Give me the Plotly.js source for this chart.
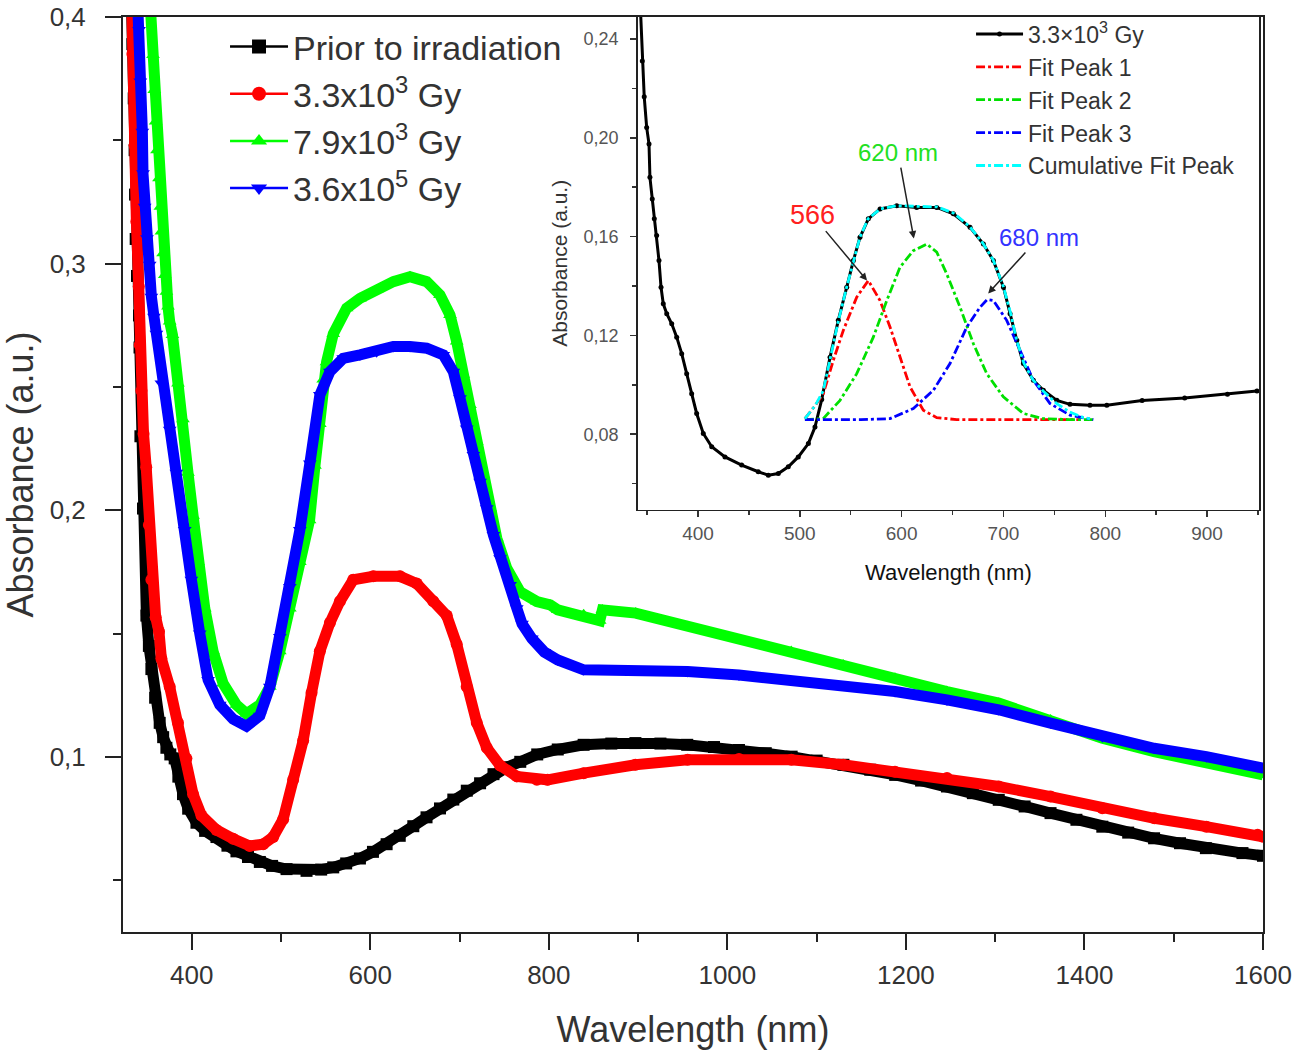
<!DOCTYPE html>
<html>
<head>
<meta charset="utf-8">
<script src="https://cdn.plot.ly/plotly-3.0.1.min.js"></script>
<style>html,body{margin:0;padding:0;background:#fff;}#chart{width:1299px;height:1057px;}</style>
</head>
<body>
<div id="chart"></div>
<script>
// ---- Main chart data (wavelength nm, absorbance a.u.) ----
const wlPrior = [332.5,333.5,335,336,336.5,337.2,338.7,340.9,341.5,342.5,345.4,349.2,352,354.8,359,364.1,368,371.6,376,380.9,385,390.2,396,405.3,415,427.7,440,450.1,463,476.3,490,506.2,528.6,545,558.5,573,588.4,603,618.3,633,648.2,663,678.1,693,708.1,723,738,753,768,787,810,839,870,897,925,955,985,1013,1043,1072,1100,1130,1160,1188,1217,1246,1275,1304,1333,1362,1391,1420,1449,1478,1507,1536,1577,1600];
const absPrior = [0.405,0.389,0.367,0.346,0.328,0.310,0.295,0.279,0.266,0.230,0.2007,0.1573,0.145,0.1356,0.124,0.1138,0.108,0.1037,0.101,0.0994,0.092,0.0849,0.079,0.0733,0.070,0.0675,0.064,0.0617,0.0594,0.0574,0.0558,0.0545,0.0538,0.0543,0.0552,0.0568,0.0588,0.0615,0.0646,0.068,0.0719,0.0755,0.0791,0.0827,0.0863,0.0893,0.0930,0.0958,0.0980,0.1010,0.1030,0.1049,0.1054,0.1056,0.1054,0.1049,0.1040,0.1028,0.1015,0.1001,0.0985,0.0968,0.0948,0.0927,0.0904,0.0880,0.0853,0.0826,0.0799,0.0772,0.0745,0.0717,0.0693,0.0670,0.0650,0.0630,0.0610,0.0599];

const wl33 = [332.5,333.5,336,338,340.6,341.7,343.6,346,349,352,354.8,359.6,363.3,366,375.3,384.6,394,401.5,410.9,427.7,446.4,465,480,491.2,502.4,513.6,524.8,534.2,543.5,554.8,566,580.9,603.3,633.3,652,670.6,685.6,696.8,708,719.3,730.5,745.4,764.1,786.6,798.6,839,897,955.5,1013,1071.6,1129.7,1187.8,1246,1304,1362,1420,1478.4,1536.5,1594,1600];
const abs33 = [0.41,0.385,0.348,0.317,0.2907,0.267,0.2485,0.231,0.2174,0.194,0.1718,0.1566,0.1508,0.1399,0.1284,0.1138,0.0994,0.0849,0.0762,0.0704,0.0668,0.0639,0.0646,0.0675,0.0747,0.0907,0.1066,0.1260,0.1428,0.1544,0.1631,0.1718,0.1732,0.1732,0.1703,0.1631,0.1573,0.1457,0.1284,0.1138,0.1037,0.0965,0.0921,0.0907,0.0907,0.0934,0.0968,0.0988,0.0991,0.0988,0.0968,0.0940,0.0914,0.0880,0.0839,0.0792,0.0751,0.0717,0.0684,0.0676];

const wl79 = [353.5,356.6,358,359.6,361.1,363.3,364.9,366,367.9,369.8,371.6,373.4,375.3,378.4,384.6,390.2,395.8,401.5,407,414.6,423.9,435.1,450.1,461.3,476.3,487.5,498.7,509.9,521.1,532,538,543.5,547.2,551,558.5,573.5,588.4,607.1,625.8,644.5,663.2,678.1,689.3,696.8,704.2,711.7,719.3,726.7,734.2,741.7,752.9,767.8,786.6,801.5,810,839,853.7,857,860,897.3,955.5,1013.4,1071.6,1129.7,1187.8,1245.9,1304,1362,1420,1478,1536.5,1594,1600];
const abs79 = [0.405,0.3846,0.3704,0.3576,0.346,0.3346,0.3231,0.313,0.3042,0.2954,0.2886,0.2826,0.2765,0.2711,0.2514,0.2369,0.2152,0.1978,0.179,0.1602,0.1428,0.1298,0.1211,0.1175,0.1211,0.1284,0.1428,0.1602,0.179,0.1960,0.2180,0.2350,0.2530,0.2600,0.2715,0.2819,0.2859,0.2893,0.2927,0.2947,0.2927,0.2873,0.2792,0.2684,0.2549,0.2427,0.2278,0.2143,0.2008,0.1887,0.1765,0.1670,0.1630,0.1616,0.1596,0.1576,0.1555,0.1552,0.1596,0.1583,0.1528,0.1474,0.1427,0.1373,0.1319,0.1265,0.1218,0.1150,0.1076,0.1021,0.0981,0.0934,0.0927];

const wl36 = [339.5,340.9,342.4,344.7,345.4,347.3,349.9,352.9,354.8,357.7,360.4,366,375.3,382.8,392.1,399.6,409,418.3,431.4,446.4,461.3,476.3,487.5,498.7,509.9,521.1,532.3,543.5,554.8,569.7,588.4,607.1,625.8,644.5,663.2,681.8,693,700.5,708,715.5,723,730.5,737.9,745.4,756.6,764.1,770,781,795,810,839,897,955.5,1013,1071.6,1129.7,1187.8,1246,1304,1362,1420,1478,1536.5,1594,1600];
const abs36 = [0.405,0.3947,0.3738,0.3535,0.3366,0.3231,0.3103,0.2995,0.2866,0.2785,0.2716,0.2514,0.2326,0.2152,0.192,0.1718,0.150,0.1312,0.1211,0.1153,0.1124,0.1167,0.1284,0.1486,0.1689,0.192,0.219,0.2467,0.2562,0.2616,0.2630,0.2643,0.2664,0.2664,0.2657,0.2630,0.2562,0.2454,0.2332,0.2224,0.2116,0.2008,0.1900,0.1805,0.1697,0.1603,0.1540,0.1480,0.1425,0.1393,0.1353,0.1353,0.1346,0.1332,0.1312,0.1292,0.1265,0.1231,0.1191,0.1137,0.1082,0.1035,0.1001,0.0961,0.0955];

const mainNames = ['Prior to irradiation','3.3x10<sup>3</sup> Gy','7.9x10<sup>3</sup> Gy','3.6x10<sup>5</sup> Gy'];

// ---- Inset data (3.3x10^3 Gy and Gaussian fit peaks) ----
const wlInset = [343.5,345.3,347.2,349.6,351.9,352.8,355.1,357.1,359.4,361.7,363.7,365.9,369.3,374.2,379.1,384,388.9,393.8,398.7,405.2,413.5,426.5,442.9,459.2,469.1,478.9,488.7,498.5,508.4,514.9,521.5,529.7,537.8,546.1,552.6,559.1,567.3,578.8,595.2,614.8,634.5,650.8,667.2,680.3,690.1,700,706.5,713.1,719.6,729.4,739.2,752.4,765.4,785,801.5,836.2,878,920,949];
const absInset = [0.252,0.2311,0.2166,0.2042,0.1975,0.184,0.1752,0.1672,0.1604,0.1503,0.1395,0.1328,0.1288,0.1247,0.1193,0.1126,0.1045,0.0964,0.0884,0.0803,0.0749,0.0708,0.0675,0.0648,0.0634,0.0641,0.0668,0.0708,0.0762,0.0829,0.0940,0.1112,0.1261,0.1395,0.1503,0.1597,0.1672,0.1712,0.1725,0.1718,0.1718,0.1692,0.1638,0.1570,0.1503,0.1395,0.1288,0.1180,0.1086,0.1018,0.0978,0.0937,0.0921,0.0917,0.0917,0.0936,0.0947,0.0962,0.0975];

const wlFit1 = [505,514,523.1,532.9,542.7,555.9,567.3,578.8,588.6,598.4,608.3,621.3,634.5,654.1,700,775];
const absFit1 = [0.0863,0.0910,0.0964,0.1099,0.1220,0.1355,0.1422,0.1341,0.1234,0.1112,0.0991,0.0897,0.0867,0.0859,0.0859,0.0859];

const wlFit2 = [505,523,539.5,555.9,572.2,585.4,598.4,611.5,624.7,634.5,644.3,657.4,670.4,683.6,699.9,719.6,739.2,765.4,790];
const absFit2 = [0.0859,0.0863,0.0937,0.1045,0.1193,0.1341,0.1476,0.1543,0.1570,0.1537,0.1449,0.1314,0.1167,0.1045,0.0951,0.0884,0.0863,0.0859,0.0859];

const wlFit3 = [505,560,588.6,611.5,631.2,647.5,664,677,684,690.1,703.2,716.3,729.4,745.8,765.4,788.3];
const absFit3 = [0.0859,0.0859,0.0863,0.0904,0.0978,0.1086,0.1234,0.1314,0.1345,0.1341,0.1261,0.1139,0.1018,0.0924,0.0877,0.0859];

const wlCum = [505,515,523,530,538,546,553,559,567,579,595,615,635,651,667,680,690,700,707,713,720,729,739,752,765,778,785];
const absCum = [0.0863,0.0915,0.0975,0.1112,0.1261,0.1395,0.1503,0.1597,0.1672,0.1712,0.1725,0.1722,0.1720,0.1695,0.1640,0.1572,0.1505,0.1397,0.1290,0.1180,0.1088,0.1020,0.0975,0.0925,0.0890,0.0868,0.0862];

const insetNames = ['3.3\u00d710<sup>3</sup> Gy','Fit Peak 1','Fit Peak 2','Fit Peak 3','Cumulative Fit Peak'];

// peak labels
const peakLabels = ['566','620 nm','680 nm'];
const peakLabelWl = [512,596.5,735];
const peakLabelAbs = [0.1689,0.194,0.1596];
const peakHeadWl = [566,612,685];
const peakHeadAbs = [0.1422,0.1592,0.137];

// ---- styles ----
const mainColors = ['#000000','#ff0000','#00ff00','#0000ff'];
const mainSymbols = ['square','circle','triangle-up','triangle-down'];
const fitColors = ['#ff0000','#00e000','#0000ff','#00ffff'];
const peakColors = ['#ff2020','#22e022','#3333ff'];
const FONT = 'Liberation Sans, Arial, Helvetica, sans-serif';

const mainX = [wlPrior, wl33, wl79, wl36];
const mainY = [absPrior, abs33, abs79, abs36];

const traces = [];
// data traces (thick bands)
for (let i = 0; i < 4; i++) {
  traces.push({
    x: mainX[i], y: mainY[i], type: 'scatter', mode: 'lines+markers',
    xaxis: 'x', yaxis: 'y', showlegend: false, cliponaxis: true,
    line: {color: mainColors[i], width: 11},
    marker: {color: mainColors[i], symbol: mainSymbols[i], size: 12}
  });
}
// legend entries for main chart
for (let i = 0; i < 4; i++) {
  traces.push({
    x: [null], y: [null], type: 'scatter', mode: 'lines+markers',
    xaxis: 'x', yaxis: 'y', name: mainNames[i], legend: 'legend',
    line: {color: mainColors[i], width: 2.5},
    marker: {color: mainColors[i], symbol: mainSymbols[i], size: 14}
  });
}
// inset traces
traces.push({
  x: wlInset, y: absInset, type: 'scatter', mode: 'lines+markers',
  xaxis: 'x2', yaxis: 'y2', name: insetNames[0], legend: 'legend2',
  line: {color: '#000', width: 3}, marker: {color: '#000', symbol: 'circle', size: 5}
});
const fitX = [wlFit1, wlFit2, wlFit3, wlCum];
const fitY = [absFit1, absFit2, absFit3, absCum];
for (let i = 0; i < 4; i++) {
  traces.push({
    x: fitX[i], y: fitY[i], type: 'scatter', mode: 'lines',
    xaxis: 'x2', yaxis: 'y2', name: insetNames[i + 1], legend: 'legend2',
    line: {color: fitColors[i], width: 2.8, dash: 'dashdot'}
  });
}

const annotations = peakLabels.map((t, i) => ({
  xref: 'x2', yref: 'y2', axref: 'x2', ayref: 'y2',
  x: peakHeadWl[i], y: peakHeadAbs[i], ax: peakLabelWl[i], ay: peakLabelAbs[i],
  text: t, showarrow: true, arrowhead: 2, arrowsize: 1, arrowwidth: 1.5, arrowcolor: '#222',
  font: {family: FONT, size: i === 0 ? 27 : 24, color: peakColors[i]}
}));

const layout = {
  width: 1299, height: 1057,
  margin: {l: 123, r: 36, t: 17, b: 125},
  paper_bgcolor: '#fff', plot_bgcolor: '#fff',
  separators: ',.',
  font: {family: FONT, color: '#333'},
  xaxis: {
    domain: [0, 1], range: [323, 1600], showgrid: false, zeroline: false,
    showline: true, linecolor: '#222', linewidth: 2, mirror: true,
    ticks: 'outside', ticklen: 16, tickwidth: 2, tickcolor: '#222',
    tick0: 0, dtick: 200, ticklabelstandoff: 3,
    minor: {dtick: 100, ticks: 'outside', ticklen: 8, tickwidth: 2, tickcolor: '#222'},
    tickfont: {family: FONT, size: 26, color: '#333'},
    title: {text: 'Wavelength (nm)', font: {family: FONT, size: 36, color: '#333'}, standoff: 28}
  },
  yaxis: {
    domain: [0, 1], range: [0.029, 0.4], showgrid: false, zeroline: false,
    showline: true, linecolor: '#222', linewidth: 2, mirror: true,
    ticks: 'outside', ticklen: 16, tickwidth: 2, tickcolor: '#222',
    tick0: 0, dtick: 0.1, ticklabelstandoff: 14,
    minor: {dtick: 0.05, ticks: 'outside', ticklen: 8, tickwidth: 2, tickcolor: '#222'},
    tickfont: {family: FONT, size: 26, color: '#333'},
    title: {text: 'Absorbance (a.u.)', font: {family: FONT, size: 36, color: '#333'}, standoff: 8}
  },
  xaxis2: {
    domain: [0.4515, 0.9965], anchor: 'y2', range: [340.8, 951], showgrid: false, zeroline: false,
    showline: true, linecolor: '#222', linewidth: 1.5, mirror: true,
    ticks: 'outside', ticklen: 6, tickwidth: 1.5, tickcolor: '#333',
    tick0: 0, dtick: 100, ticklabelstandoff: 0,
    minor: {dtick: 50, ticks: 'outside', ticklen: 4, tickwidth: 1.5, tickcolor: '#333'},
    tickfont: {family: FONT, size: 19, color: '#555'},
    title: {text: 'Wavelength (nm)', font: {family: FONT, size: 22, color: '#111'}, standoff: 22}
  },
  yaxis2: {
    domain: [0.4617, 1], anchor: 'x2', range: [0.0495, 0.2489], showgrid: false, zeroline: false,
    showline: true, linecolor: '#222', linewidth: 1.5, mirror: true,
    ticks: 'outside', ticklen: 6, tickwidth: 1.5, tickcolor: '#333',
    tick0: 0, dtick: 0.04, tickformat: '.2f', ticklabelstandoff: 8,
    minor: {dtick: 0.02, ticks: 'outside', ticklen: 4, tickwidth: 1.5, tickcolor: '#333'},
    tickfont: {family: FONT, size: 18, color: '#555'},
    title: {text: 'Absorbance (a.u.)', font: {family: FONT, size: 21, color: '#333'}, standoff: 10}
  },
  legend: {
    x: 0.0895, y: 0.999, xanchor: 'left', yanchor: 'top', bgcolor: 'rgba(0,0,0,0)',
    itemwidth: 58, font: {family: FONT, size: 34, color: '#333'}, tracegroupgap: 0
  },
  legend2: {
    x: 0.7439, y: 1.005, xanchor: 'left', yanchor: 'top', bgcolor: 'rgba(0,0,0,0)',
    itemwidth: 47, font: {family: FONT, size: 23, color: '#333'}, tracegroupgap: 0
  },
  annotations: annotations
};

Plotly.newPlot('chart', traces, layout, {displayModeBar: false, staticPlot: true});
</script>
</body>
</html>
